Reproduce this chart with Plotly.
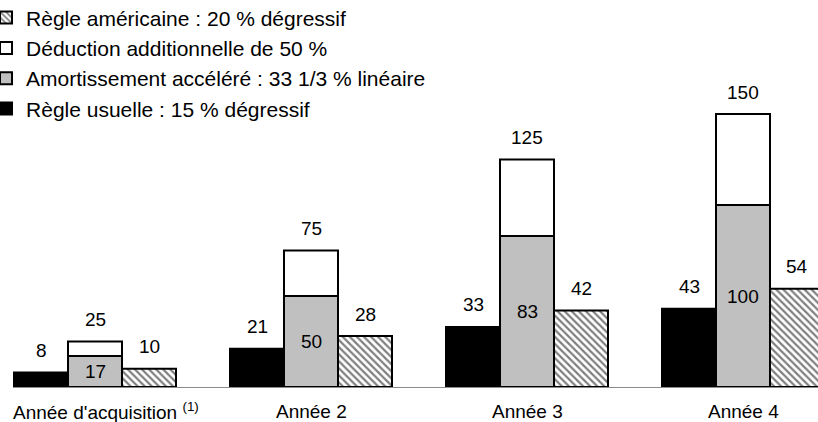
import plotly.graph_objects as go
import numpy as np

# Années
categories = ["Année d'acquisition <sup>(1)</sup>", "Année 2", "Année 3", "Année 4"]

# Séries (en %)
regle_usuelle = [8, 21, 33, 43]
amortissement_accelere = [17, 50, 83, 100]
deduction_additionnelle = [8, 25, 42, 50]
regle_americaine = [10, 28, 42, 54]

names = [
    "Règle usuelle : 15 % dégressif",
    "Amortissement accéléré : 33 1/3 % linéaire",
    "Déduction additionnelle de 50 %",
    "Règle américaine : 20 % dégressif",
]

FONT = "Liberation Sans, Arial, sans-serif"
FS = 19
W = 0.25  # largeur d'une barre (unités de catégorie)

idx = np.arange(len(categories))
x_left = idx - W
x_mid = idx
x_right = idx + W
total = [a + d for a, d in zip(amortissement_accelere, deduction_additionnelle)]

line = dict(color="black", width=2)

fig = go.Figure()
fig.add_trace(go.Bar(x=x_left, y=regle_usuelle, width=W, name=names[0], legendgroup="a",
                     marker=dict(color="black", line=line)))
fig.add_trace(go.Bar(x=x_mid, y=amortissement_accelere, width=W, name=names[1], legendgroup="b",
                     marker=dict(color="#c0c0c0", line=line)))
fig.add_trace(go.Bar(x=x_mid, y=deduction_additionnelle, base=amortissement_accelere,
                     width=W, name=names[2], legendgroup="c",
                     marker=dict(color="white", line=line)))
fig.add_trace(go.Bar(x=x_right, y=regle_americaine, width=W, name=names[3], legendgroup="d",
                     marker=dict(color="white", line=line,
                                 pattern=dict(shape="\\", fgcolor="black", bgcolor="white",
                                              size=5, solidity=0.45))))

annotations = []
def label(x, y, text, shift):
    annotations.append(dict(x=x, y=y, text=str(text), showarrow=False, xref="x", yref="y",
                            yshift=shift, yanchor="middle", xanchor="center",
                            font=dict(family=FONT, size=FS, color="black")))

for i in idx:
    label(x_left[i], regle_usuelle[i], regle_usuelle[i], 22)
    label(x_mid[i], total[i], total[i], 22)
    label(x_mid[i], amortissement_accelere[i] / 2, amortissement_accelere[i], 0)
    label(x_right[i], regle_americaine[i], regle_americaine[i], 22)

# Libellés des catégories sous l'axe
for i, cat in enumerate(categories):
    annotations.append(dict(x=i, y=0, xref="x", yref="y", text=cat, showarrow=False,
                            yshift=-24, yanchor="middle", xanchor="center",
                            xshift=11 if i == 0 else 0,
                            font=dict(family=FONT, size=FS, color="black")))

PX_PER_CAT = 216
FIRST_CENTER = 95
LEFT = 13
WIDTH = 818
fig.update_layout(
    width=818, height=422,
    barmode="overlay",
    plot_bgcolor="white", paper_bgcolor="white",
    margin=dict(l=LEFT, r=0, t=0, b=35, autoexpand=False),
    font=dict(family=FONT, size=FS, color="black"),
    annotations=annotations,
    showlegend=True,
    legend=dict(x=-0.0335, y=1.0066, xanchor="left", yanchor="top", traceorder="reversed",
                tracegroupgap=2,
                font=dict(family=FONT, size=21, color="black"),
                bgcolor="rgba(0,0,0,0)", itemclick=False),
    xaxis=dict(range=[(LEFT - FIRST_CENTER) / PX_PER_CAT, (WIDTH - FIRST_CENTER) / PX_PER_CAT],
               showticklabels=False, showgrid=False, zeroline=False, automargin=False,
               showline=True, linecolor="#8c8c8c", linewidth=1, ticks=""),
    yaxis=dict(range=[0, 387 / 1.82], visible=False, showgrid=False, zeroline=False),
)

fig.write_html("out.html")
